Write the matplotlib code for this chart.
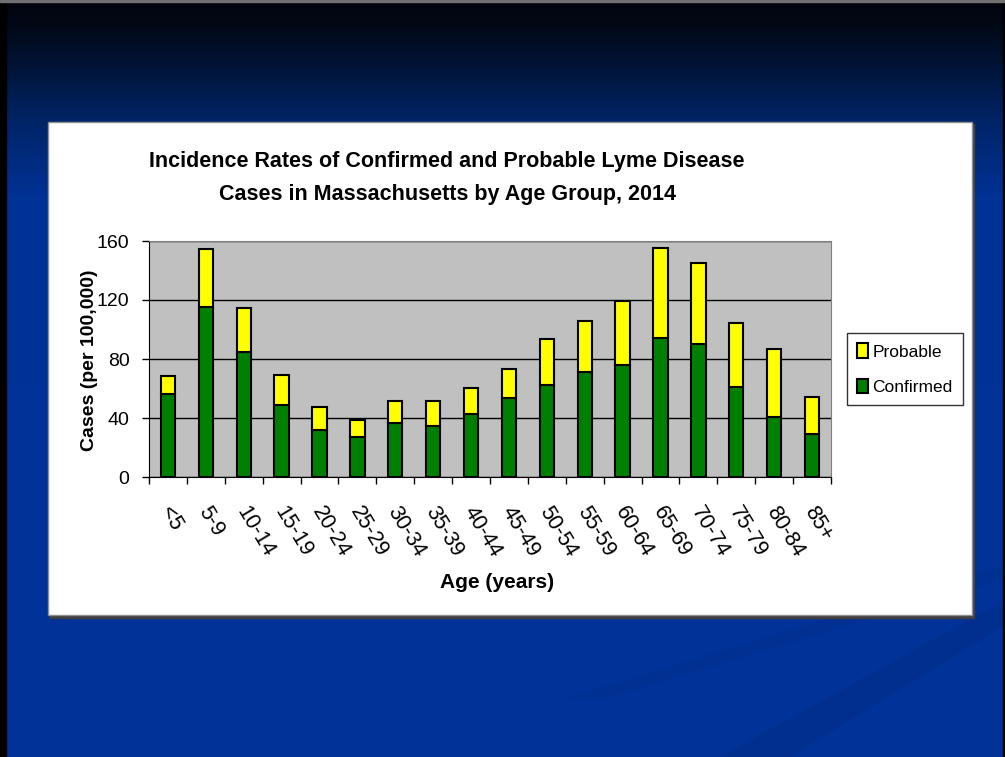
import numpy as np
import matplotlib
matplotlib.use("Agg")
import matplotlib.pyplot as plt
from matplotlib.patches import Rectangle, Polygon

# Data (cases per 100,000)
age_groups = ['<5', '5-9', '10-14', '15-19', '20-24', '25-29', '30-34', '35-39', '40-44',
              '45-49', '50-54', '55-59', '60-64', '65-69', '70-74', '75-79', '80-84', '85+']
confirmed = [56, 115.5, 84.5, 48.6, 31.6, 27.1, 36.6, 34.4, 42.9,
             53.8, 62.6, 71.2, 75.7, 94.2, 90.4, 61.2, 40.9, 29.2]
total = [68.5, 154.4, 114.8, 69, 47.3, 38.9, 51.5, 51.5, 60.6,
         73, 93.3, 105.6, 119.5, 155, 145.3, 104.6, 86.8, 54.2]
probable = [t - c for t, c in zip(total, confirmed)]
y_ticks = [0, 40, 80, 120, 160]

plt.rcParams['font.family'] = ['Liberation Sans', 'DejaVu Sans']

W, H = 1005, 757
fig = plt.figure(figsize=(W / 100, H / 100), dpi=100)

# slide background: dark gradient into blue
bg = fig.add_axes([0, 0, 1, 1])
rows = np.arange(H)
stops_y = [0, 25, 60, 120, 200, H]
r = np.interp(rows, stops_y, [2, 2, 1, 0, 0, 0])
g = np.interp(rows, stops_y, [5, 8, 18, 36, 50, 51])
b = np.interp(rows, stops_y, [14, 22, 50, 102, 150, 153])
img = np.stack([r, g, b], axis=1)[:, None, :].repeat(W, axis=1) / 255
bg.imshow(img, extent=[0, W, H, 0], aspect='auto')
bg.add_patch(Polygon([[720, 757], [1005, 600], [1005, 625], [790, 757]],
                     closed=True, color='#002d88', alpha=0.45, lw=0))
bg.add_patch(Polygon([[560, 700], [1005, 565], [1005, 578], [600, 700]],
                     closed=True, color='#002d88', alpha=0.35, lw=0))
bg.add_patch(Rectangle((0, 0), 6, H, color='black'))
bg.add_patch(Rectangle((W - 2, 0), 2, H, color='black'))
bg.add_patch(Rectangle((0, 0), W, 2, color='#707070'))
# white chart panel with shadow
bg.add_patch(Rectangle((50, 124), 924, 494, color='#404040'))
bg.add_patch(Rectangle((48, 122), 924, 493, facecolor='white', edgecolor='#909090', lw=1))
bg.set_xlim(0, W)
bg.set_ylim(H, 0)
bg.axis('off')

ax = fig.add_axes([149 / W, 1 - 477 / H, 682 / W, 236 / H])
ax.set_facecolor('#C0C0C0')
x = np.arange(len(age_groups))
ax.bar(x, confirmed, width=0.38, color='#008000', edgecolor='black', lw=1.5,
       label='Confirmed', zorder=3)
ax.bar(x, probable, bottom=confirmed, width=0.38, color='#FFFF00', edgecolor='black',
       lw=1.5, label='Probable', zorder=3)
ax.set_xlim(-0.5, len(age_groups) - 0.5)
ax.set_ylim(0, 160)
ax.set_yticks(y_ticks)
ax.set_yticklabels([str(v) for v in y_ticks], fontsize=14)
ax.yaxis.grid(True, color='black', lw=1, zorder=1)
ax.tick_params(axis='y', length=5, width=1, pad=9)

# ticks between categories, labels at centres
ax.set_xticks(np.arange(len(age_groups) + 1) - 0.5)
ax.set_xticklabels([])
ax.tick_params(axis='x', length=5, width=1)
for xi, lab in zip(x, age_groups):
    ax.annotate(lab, xy=(xi, 0), xycoords=('data', 'axes fraction'),
                xytext=(-3, -31), textcoords='offset pixels', rotation=-59,
                rotation_mode='anchor', ha='left', va='center', fontsize=15.5)

for side in ['top', 'right']:
    ax.spines[side].set_color('#808080')
for side in ['left', 'bottom']:
    ax.spines[side].set_color('black')

fig.text(497 / W, 1 - 582 / H, 'Age (years)', ha='center', va='center',
         fontsize=15, fontweight='bold')
fig.text(89 / W, 1 - 360 / H, 'Cases (per 100,000)', ha='center', va='center',
         rotation=90, fontsize=14, fontweight='bold')
fig.text(447 / W, 1 - 178 / H,
         'Incidence Rates of Confirmed and Probable Lyme Disease\nCases in Massachusetts by Age Group, 2014',
         ha='center', va='center', fontsize=15.5, fontweight='bold', linespacing=1.8)

handles, labels = ax.get_legend_handles_labels()
leg = fig.legend(handles[::-1], labels[::-1], loc='upper left',
                 bbox_to_anchor=(847 / W, 1 - 333 / H), fontsize=12.5, frameon=True,
                 fancybox=False, edgecolor='black', handlelength=0.6, handleheight=0.9,
                 handletextpad=0.25, borderpad=0.6, labelspacing=1.1, borderaxespad=0)
leg.get_frame().set_linewidth(1)

fig.savefig('out.png', dpi=100)
